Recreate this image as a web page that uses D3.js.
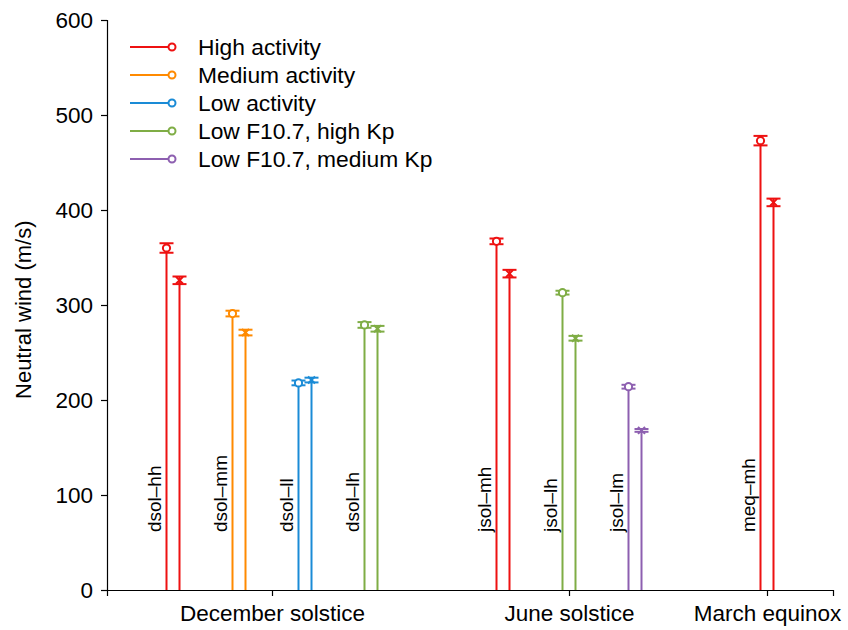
<!DOCTYPE html>
<html>
<head>
<meta charset="utf-8">
<script src="https://cdn.jsdelivr.net/npm/d3@7"></script>
<style>
body { margin: 0; background: #fff; }
text { font-family: "Liberation Sans", Arial, sans-serif; fill: #000; }
</style>
</head>
<body>
<div id="chart"></div>
<script>
// slot index of each case on the x axis (gaps between seasons)
var cases = ["dsol\u2013hh", "dsol\u2013mm", "dsol\u2013ll", "dsol\u2013lh", "jsol\u2013mh", "jsol\u2013lh", "jsol\u2013lm", "meq\u2013mh"];
var slots = [0, 1, 2, 3, 5, 6, 7, 9];
var colorIdx = [0, 1, 2, 3, 0, 3, 4, 0];
var windA = [360, 291, 218, 279, 367, 313, 214, 473];
var errA = [5, 3, 2.5, 3, 3, 2, 2, 5];
var windB = [326, 271, 221, 275, 333, 265, 168, 408];
var errB = [4, 3, 2.5, 3, 4, 2.5, 1.5, 4];

var seasons = ["December solstice", "June solstice", "March equinox"];
var seasonPos = [1.5, 6, 9];

var series = ["High activity", "Medium activity", "Low activity", "Low F10.7, high Kp", "Low F10.7, medium Kp"];
var colors = ["#ee1111", "#ff8a00", "#1a8bd6", "#7fad45", "#8d5fb0"];
var yTicks = [0, 100, 200, 300, 400, 500, 600];

var W = 848, H = 630;
var svg = d3.select("#chart").append("svg").attr("width", W).attr("height", H);

var x = d3.scaleLinear().domain([-1, 10]).range([107, 833]);
var y = d3.scaleLinear().domain([0, 600]).range([590, 20]);

// axes
var yAxis = d3.axisLeft(y).tickValues(yTicks).tickSize(6).tickPadding(8);
var gy = svg.append("g").attr("transform", "translate(107,0)").call(yAxis);
var xAxis = d3.axisBottom(x).tickValues(seasonPos).tickSize(6).tickPadding(9)
	.tickFormat(function(d, i){ return seasons[i]; });
var gx = svg.append("g").attr("transform", "translate(0,590)").call(xAxis);
[gx, gy].forEach(function(g){
	g.select(".domain").attr("stroke", "#000").attr("stroke-width", 1.2);
	g.selectAll(".tick line").attr("stroke", "#000").attr("stroke-width", 1.2);
	g.selectAll(".tick text").attr("font-size", 22.5).attr("font-family", "Liberation Sans, Arial, sans-serif").attr("fill", "#000");
});
gy.selectAll(".tick text").attr("dy", "0.35em");

svg.append("text")
	.attr("transform", "translate(31," + y(295) + ") rotate(-90)")
	.attr("text-anchor", "middle")
	.attr("font-size", 22)
	.text("Neutral wind (m/s)");

var off = 6.5, cap = 7;

function stem(g, cx, v, e, col, kind){
	g.append("line").attr("x1", cx).attr("x2", cx).attr("y1", y(0)).attr("y2", y(v))
		.attr("stroke", col).attr("stroke-width", 2);
	[v - e, v + e].forEach(function(t){
		g.append("line").attr("x1", cx - cap).attr("x2", cx + cap).attr("y1", y(t)).attr("y2", y(t))
			.attr("stroke", col).attr("stroke-width", 2);
	});
	g.append("line").attr("x1", cx).attr("x2", cx).attr("y1", y(v - e)).attr("y2", y(v + e))
		.attr("stroke", col).attr("stroke-width", 2);
	if (kind == "o"){
		g.append("circle").attr("cx", cx).attr("cy", y(v)).attr("r", 3.6)
			.attr("fill", "#fff").attr("stroke", col).attr("stroke-width", 2);
	} else {
		var s = 3.5, py = y(v);
		g.append("path")
			.attr("d", "M" + (cx - s) + "," + (py - s) + "L" + (cx + s) + "," + (py + s) +
				"M" + (cx - s) + "," + (py + s) + "L" + (cx + s) + "," + (py - s))
			.attr("stroke", col).attr("stroke-width", 2).attr("fill", "none");
	}
}

cases.forEach(function(name, i){
	var col = colors[colorIdx[i]];
	var g = svg.append("g");
	var cx = x(slots[i]);
	stem(g, cx - off, windA[i], errA[i], col, "o");
	stem(g, cx + off, windB[i], errB[i], col, "x");
	g.append("text")
		.attr("transform", "translate(" + (cx - 12) + "," + y(61) + ") rotate(-90)")
		.attr("font-size", 19)
		.text(name);
});

// legend
var lg = svg.append("g").attr("transform", "translate(130,47)");
series.forEach(function(s, i){
	var row = lg.append("g").attr("transform", "translate(0," + (i * 28) + ")");
	row.append("line").attr("x1", 0).attr("x2", 42).attr("y1", 0).attr("y2", 0)
		.attr("stroke", colors[i]).attr("stroke-width", 2);
	row.append("circle").attr("cx", 42).attr("cy", 0).attr("r", 3.5)
		.attr("fill", "#fff").attr("stroke", colors[i]).attr("stroke-width", 2);
	row.append("text").attr("x", 68).attr("y", 0).attr("dy", "0.35em")
		.attr("font-size", 22.8).text(s);
});
</script>
</body>
</html>
